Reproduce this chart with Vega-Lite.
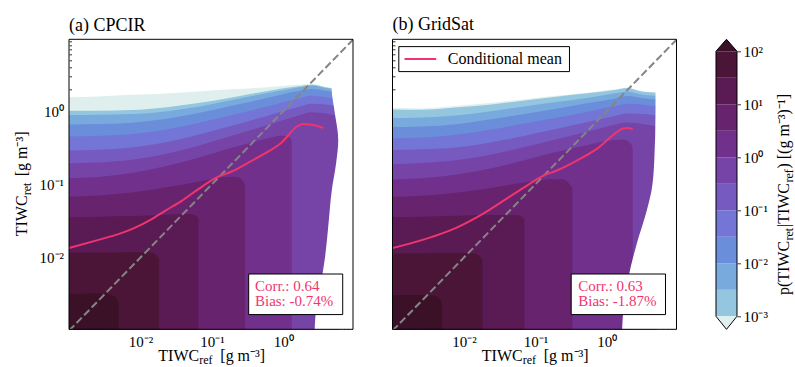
{
"$schema": "https://vega.github.io/schema/vega-lite/v6.json",
"background": "white",
"padding": {"left": 13, "top": 15.3, "right": 0, "bottom": 0},
"config": {"font": "Liberation Serif", "view": {"stroke": null}, "axis": {"grid": false, "domain": false, "labelColor": "black", "tickColor": "black", "labelFontSize": 15, "labelFont": "Liberation Serif", "zindex": 1, "labelFlush": false, "labelOverlap": false}},
"datasets": {
"field": [
{"p":"a","L":0,"x":0.000891,"y":1.537},{"p":"a","L":0,"x":0.002588,"y":1.587},{"p":"a","L":0,"x":0.007568,"y":1.672},{"p":"a","L":0,"x":0.02213,"y":1.743},{"p":"a","L":0,"x":0.06471,"y":1.857},{"p":"a","L":0,"x":0.1892,"y":1.978},{"p":"a","L":0,"x":0.5546,"y":2.105},{"p":"a","L":0,"x":1.622,"y":2.291},{"p":"a","L":0,"x":2.489,"y":2.339},{"p":"a","L":0,"x":4.256,"y":2.105},{"p":"a","L":0,"x":6.0,"y":2.0},
{"p":"a","L":1,"x":0.000891,"y":1.011},{"p":"a","L":1,"x":0.002588,"y":1.011},{"p":"a","L":1,"x":0.007568,"y":1.032},{"p":"a","L":1,"x":0.02213,"y":1.122},{"p":"a","L":1,"x":0.06471,"y":1.286},{"p":"a","L":1,"x":0.1892,"y":1.537},{"p":"a","L":1,"x":0.5546,"y":1.857},{"p":"a","L":1,"x":1.622,"y":2.174},{"p":"a","L":1,"x":2.489,"y":2.291},{"p":"a","L":1,"x":4.256,"y":2.084},{"p":"a","L":1,"x":6.0,"y":1.98},
{"p":"a","L":2,"x":0.000891,"y":0.8817},{"p":"a","L":2,"x":0.002588,"y":0.891},{"p":"a","L":2,"x":0.007568,"y":0.9099},{"p":"a","L":2,"x":0.02213,"y":0.9896},{"p":"a","L":2,"x":0.06471,"y":1.147},{"p":"a","L":2,"x":0.1892,"y":1.414},{"p":"a","L":2,"x":0.5546,"y":1.743},{"p":"a","L":2,"x":1.622,"y":2.105},{"p":"a","L":2,"x":2.489,"y":2.242},{"p":"a","L":2,"x":4.256,"y":2.041},{"p":"a","L":2,"x":6.0,"y":1.95},
{"p":"a","L":3,"x":0.000891,"y":0.657},{"p":"a","L":3,"x":0.002588,"y":0.664},{"p":"a","L":3,"x":0.007568,"y":0.693},{"p":"a","L":3,"x":0.02213,"y":0.777},{"p":"a","L":3,"x":0.06471,"y":0.939},{"p":"a","L":3,"x":0.1892,"y":1.183},{"p":"a","L":3,"x":0.5546,"y":1.489},{"p":"a","L":3,"x":1.622,"y":1.876},{"p":"a","L":3,"x":2.489,"y":1.998},{"p":"a","L":3,"x":4.256,"y":1.876},{"p":"a","L":3,"x":6.0,"y":1.793},
{"p":"a","L":4,"x":0.000891,"y":0.45},{"p":"a","L":4,"x":0.002588,"y":0.46},{"p":"a","L":4,"x":0.007568,"y":0.485},{"p":"a","L":4,"x":0.02213,"y":0.555},{"p":"a","L":4,"x":0.06471,"y":0.685},{"p":"a","L":4,"x":0.1892,"y":0.881},{"p":"a","L":4,"x":0.5546,"y":1.133},{"p":"a","L":4,"x":1.622,"y":1.488},{"p":"a","L":4,"x":2.489,"y":1.618},{"p":"a","L":4,"x":4.256,"y":1.537},{"p":"a","L":4,"x":6.0,"y":1.469},
{"p":"a","L":5,"x":0.000891,"y":0.29},{"p":"a","L":5,"x":0.002588,"y":0.296},{"p":"a","L":5,"x":0.007568,"y":0.319},{"p":"a","L":5,"x":0.02213,"y":0.373},{"p":"a","L":5,"x":0.06471,"y":0.475},{"p":"a","L":5,"x":0.1892,"y":0.631},{"p":"a","L":5,"x":0.5546,"y":0.846},{"p":"a","L":5,"x":1.622,"y":1.136},{"p":"a","L":5,"x":2.489,"y":1.261},{"p":"a","L":5,"x":4.256,"y":1.221},{"p":"a","L":5,"x":6.0,"y":1.163},
{"p":"a","L":6,"x":0.000891,"y":0.193},{"p":"a","L":6,"x":0.002588,"y":0.199},{"p":"a","L":6,"x":0.007568,"y":0.216},{"p":"a","L":6,"x":0.02213,"y":0.259},{"p":"a","L":6,"x":0.06471,"y":0.336},{"p":"a","L":6,"x":0.1892,"y":0.46},{"p":"a","L":6,"x":0.5546,"y":0.631},{"p":"a","L":6,"x":1.622,"y":0.864},{"p":"a","L":6,"x":2.489,"y":0.96},{"p":"a","L":6,"x":4.256,"y":0.911},{"p":"a","L":6,"x":6.0,"y":0.85},
{"p":"a","L":7,"x":0.000891,"y":0.1204},{"p":"a","L":7,"x":0.002588,"y":0.1255},{"p":"a","L":7,"x":0.007568,"y":0.1424},{"p":"a","L":7,"x":0.02213,"y":0.1757},{"p":"a","L":7,"x":0.06471,"y":0.2308},{"p":"a","L":7,"x":0.1892,"y":0.316},{"p":"a","L":7,"x":0.5546,"y":0.4151},{"p":"a","L":7,"x":0.9484,"y":0.4611},{"p":"a","L":7,"x":1.175,"y":0.4515},{"p":"a","L":7,"x":1.309,"y":0.394},
{"p":"a","L":8,"x":0.000891,"y":0.06748},{"p":"a","L":8,"x":0.002588,"y":0.07036},{"p":"a","L":8,"x":0.007568,"y":0.07733},{"p":"a","L":8,"x":0.02213,"y":0.09054},{"p":"a","L":8,"x":0.06471,"y":0.1082},{"p":"a","L":8,"x":0.1107,"y":0.1202},{"p":"a","L":8,"x":0.1892,"y":0.1266},{"p":"a","L":8,"x":0.235,"y":0.124},{"p":"a","L":8,"x":0.2761,"y":0.1093},{"p":"a","L":8,"x":0.2911,"y":0.095},
{"p":"a","L":9,"x":0.000891,"y":0.03539},{"p":"a","L":9,"x":0.002588,"y":0.03615},{"p":"a","L":9,"x":0.007568,"y":0.03691},{"p":"a","L":9,"x":0.02213,"y":0.03848},{"p":"a","L":9,"x":0.04688,"y":0.0393},{"p":"a","L":9,"x":0.05821,"y":0.03769},{"p":"a","L":9,"x":0.06471,"y":0.03458},
{"p":"a","L":10,"x":0.000891,"y":0.0117},{"p":"a","L":10,"x":0.002588,"y":0.0117},{"p":"a","L":10,"x":0.007568,"y":0.01182},{"p":"a","L":10,"x":0.01294,"y":0.01182},{"p":"a","L":10,"x":0.01603,"y":0.0111},{"p":"a","L":10,"x":0.01824,"y":0.00949},
{"p":"a","L":11,"x":0.000891,"y":0.003154},{"p":"a","L":11,"x":0.002588,"y":0.003221},{"p":"a","L":11,"x":0.003972,"y":0.003088},{"p":"a","L":11,"x":0.004667,"y":0.002694},{"p":"a","L":11,"x":0.00492,"y":0.0024},
{"p":"b","L":0,"x":0.000891,"y":1.099},{"p":"b","L":0,"x":0.002588,"y":1.087},{"p":"b","L":0,"x":0.007631,"y":1.17},{"p":"b","L":0,"x":0.02249,"y":1.286},{"p":"b","L":0,"x":0.06637,"y":1.443},{"p":"b","L":0,"x":0.1954,"y":1.62},{"p":"b","L":0,"x":0.5768,"y":1.799},{"p":"b","L":0,"x":1.368,"y":1.999},{"p":"b","L":0,"x":1.892,"y":2.105},{"p":"b","L":0,"x":3.251,"y":1.857},{"p":"b","L":0,"x":4.9,"y":1.8},
{"p":"b","L":1,"x":0.000891,"y":1.05},{"p":"b","L":1,"x":0.002588,"y":1.04},{"p":"b","L":1,"x":0.007631,"y":1.12},{"p":"b","L":1,"x":0.02249,"y":1.22},{"p":"b","L":1,"x":0.06637,"y":1.38},{"p":"b","L":1,"x":0.1954,"y":1.57},{"p":"b","L":1,"x":0.5768,"y":1.76},{"p":"b","L":1,"x":1.368,"y":1.96},{"p":"b","L":1,"x":1.892,"y":2.07},{"p":"b","L":1,"x":3.251,"y":1.83},{"p":"b","L":1,"x":4.9,"y":1.78},
{"p":"b","L":2,"x":0.000891,"y":0.801},{"p":"b","L":2,"x":0.002588,"y":0.818},{"p":"b","L":2,"x":0.007631,"y":0.871},{"p":"b","L":2,"x":0.02249,"y":0.989},{"p":"b","L":2,"x":0.06637,"y":1.144},{"p":"b","L":2,"x":0.1954,"y":1.326},{"p":"b","L":2,"x":0.5768,"y":1.535},{"p":"b","L":2,"x":1.368,"y":1.759},{"p":"b","L":2,"x":1.892,"y":1.854},{"p":"b","L":2,"x":3.251,"y":1.669},{"p":"b","L":2,"x":4.9,"y":1.614},
{"p":"b","L":3,"x":0.000891,"y":0.603},{"p":"b","L":3,"x":0.002588,"y":0.616},{"p":"b","L":3,"x":0.007631,"y":0.663},{"p":"b","L":3,"x":0.02249,"y":0.768},{"p":"b","L":3,"x":0.06637,"y":0.908},{"p":"b","L":3,"x":0.1954,"y":1.074},{"p":"b","L":3,"x":0.5768,"y":1.298},{"p":"b","L":3,"x":1.368,"y":1.502},{"p":"b","L":3,"x":1.892,"y":1.6},{"p":"b","L":3,"x":3.251,"y":1.502},{"p":"b","L":3,"x":4.9,"y":1.436},
{"p":"b","L":4,"x":0.000891,"y":0.4265},{"p":"b","L":4,"x":0.002588,"y":0.4356},{"p":"b","L":4,"x":0.007631,"y":0.4738},{"p":"b","L":4,"x":0.02249,"y":0.5543},{"p":"b","L":4,"x":0.06637,"y":0.6698},{"p":"b","L":4,"x":0.1954,"y":0.8088},{"p":"b","L":4,"x":0.5768,"y":0.9975},{"p":"b","L":4,"x":1.368,"y":1.18},{"p":"b","L":4,"x":1.892,"y":1.257},{"p":"b","L":4,"x":3.251,"y":1.217},{"p":"b","L":4,"x":4.9,"y":1.159},
{"p":"b","L":5,"x":0.000891,"y":0.2925},{"p":"b","L":5,"x":0.002588,"y":0.3015},{"p":"b","L":5,"x":0.007631,"y":0.3182},{"p":"b","L":5,"x":0.02249,"y":0.3686},{"p":"b","L":5,"x":0.06637,"y":0.4546},{"p":"b","L":5,"x":0.1954,"y":0.5669},{"p":"b","L":5,"x":0.5768,"y":0.7213},{"p":"b","L":5,"x":1.368,"y":0.8711},{"p":"b","L":5,"x":1.892,"y":0.9278},{"p":"b","L":5,"x":3.251,"y":0.9089},{"p":"b","L":5,"x":4.9,"y":0.872},
{"p":"b","L":6,"x":0.000891,"y":0.1877},{"p":"b","L":6,"x":0.002588,"y":0.1958},{"p":"b","L":6,"x":0.007631,"y":0.2129},{"p":"b","L":6,"x":0.02249,"y":0.2518},{"p":"b","L":6,"x":0.06637,"y":0.3172},{"p":"b","L":6,"x":0.1954,"y":0.4122},{"p":"b","L":6,"x":0.5768,"y":0.5357},{"p":"b","L":6,"x":1.368,"y":0.661},{"p":"b","L":6,"x":1.892,"y":0.6965},{"p":"b","L":6,"x":3.251,"y":0.661},{"p":"b","L":6,"x":4.9,"y":0.62},
{"p":"b","L":7,"x":0.000891,"y":0.1164},{"p":"b","L":7,"x":0.002588,"y":0.1214},{"p":"b","L":7,"x":0.007631,"y":0.1348},{"p":"b","L":7,"x":0.02249,"y":0.1628},{"p":"b","L":7,"x":0.06637,"y":0.2095},{"p":"b","L":7,"x":0.1954,"y":0.2752},{"p":"b","L":7,"x":0.5768,"y":0.3502},{"p":"b","L":7,"x":0.9885,"y":0.389},{"p":"b","L":7,"x":1.698,"y":0.4099},{"p":"b","L":7,"x":2.2,"y":0.3502},{"p":"b","L":7,"x":2.3,"y":0.3099},
{"p":"b","L":8,"x":0.000891,"y":0.06748},{"p":"b","L":8,"x":0.002588,"y":0.06963},{"p":"b","L":8,"x":0.007631,"y":0.07652},{"p":"b","L":8,"x":0.02249,"y":0.08863},{"p":"b","L":8,"x":0.06637,"y":0.1048},{"p":"b","L":8,"x":0.1574,"y":0.1176},{"p":"b","L":8,"x":0.2427,"y":0.1176},{"p":"b","L":8,"x":0.3013,"y":0.1005},{"p":"b","L":8,"x":0.3283,"y":0.09},
{"p":"b","L":9,"x":0.000891,"y":0.03536},{"p":"b","L":9,"x":0.002588,"y":0.03611},{"p":"b","L":9,"x":0.007631,"y":0.03726},{"p":"b","L":9,"x":0.02249,"y":0.03805},{"p":"b","L":9,"x":0.05345,"y":0.03805},{"p":"b","L":9,"x":0.06637,"y":0.03536},{"p":"b","L":9,"x":0.07002,"y":0.0328},
{"p":"b","L":10,"x":0.000891,"y":0.0113},{"p":"b","L":10,"x":0.002588,"y":0.0114},{"p":"b","L":10,"x":0.007631,"y":0.0115},{"p":"b","L":10,"x":0.01309,"y":0.0115},{"p":"b","L":10,"x":0.01626,"y":0.0106},{"p":"b","L":10,"x":0.01811,"y":0.0094},
{"p":"b","L":11,"x":0.000891,"y":0.00305},{"p":"b","L":11,"x":0.002588,"y":0.00309},{"p":"b","L":11,"x":0.00399,"y":0.002993},{"p":"b","L":11,"x":0.00469,"y":0.002611},{"p":"b","L":11,"x":0.004955,"y":0.0023}
],
"edge": [
{"p":"a","x":4.6,"y":12},{"p":"a","x":4.74,"y":2.0},{"p":"a","x":5.2,"y":1.0},{"p":"a","x":5.87,"y":0.4},{"p":"a","x":5.5,"y":0.2},{"p":"a","x":4.74,"y":0.08},{"p":"a","x":4.3,"y":0.03},{"p":"a","x":3.83,"y":0.01},{"p":"a","x":3.3,"y":0.004},{"p":"a","x":2.8,"y":0.0015},{"p":"a","x":2.7,"y":0.0005},
{"p":"b","x":4.8,"y":12},{"p":"b","x":4.8,"y":1.0},{"p":"b","x":4.6,"y":0.2},{"p":"b","x":4.2,"y":0.08},{"p":"b","x":3.6,"y":0.043},{"p":"b","x":2.6,"y":0.015},{"p":"b","x":2.0,"y":0.0053},{"p":"b","x":1.7,"y":0.0019},{"p":"b","x":1.6,"y":0.0005}
],
"mean": [
{"p":"a","x":0.001,"y":0.01343},{"p":"a","x":0.002588,"y":0.01742},{"p":"a","x":0.00492,"y":0.02084},{"p":"a","x":0.007568,"y":0.02438},{"p":"a","x":0.01442,"y":0.03342},{"p":"a","x":0.02213,"y":0.04345},{"p":"a","x":0.03784,"y":0.05943},{"p":"a","x":0.06471,"y":0.0859},{"p":"a","x":0.1169,"y":0.1239},{"p":"a","x":0.1892,"y":0.1496},{"p":"a","x":0.3606,"y":0.2094},{"p":"a","x":0.5546,"y":0.2636},{"p":"a","x":0.9484,"y":0.3733},{"p":"a","x":1.622,"y":0.631},{"p":"a","x":1.905,"y":0.6637},{"p":"a","x":2.489,"y":0.6501},{"p":"a","x":3.436,"y":0.5984},{"p":"a","x":3.622,"y":0.5861},
{"p":"b","x":0.001,"y":0.01343},{"p":"b","x":0.003581,"y":0.01914},{"p":"b","x":0.007638,"y":0.02518},{"p":"b","x":0.01811,"y":0.03908},{"p":"b","x":0.03864,"y":0.06266},{"p":"b","x":0.08222,"y":0.1005},{"p":"b","x":0.1268,"y":0.1306},{"p":"b","x":0.1954,"y":0.1531},{"p":"b","x":0.3741,"y":0.2094},{"p":"b","x":0.7145,"y":0.3027},{"p":"b","x":1.368,"y":0.5105},{"p":"b","x":1.698,"y":0.5794},{"p":"b","x":1.995,"y":0.5861},{"p":"b","x":2.301,"y":0.561}
],
"bands": [
{"L":1,"lo":0.001,"hi":0.003162},{"L":2,"lo":0.003162,"hi":0.01},{"L":3,"lo":0.01,"hi":0.03162},{"L":4,"lo":0.03162,"hi":0.1},{"L":5,"lo":0.1,"hi":0.3162},{"L":6,"lo":0.3162,"hi":1},{"L":7,"lo":1,"hi":3.162},{"L":8,"lo":3.162,"hi":10},{"L":9,"lo":10,"hi":31.62},{"L":10,"lo":31.62,"hi":100}
]
},
"spacing": 39.5,
"bounds": "flush",
"hconcat": [
{
"width": 284, "height": 290,
"title": {"text": "(a) CPCIR", "anchor": "start", "frame": "group", "fontSize": 18, "fontWeight": "normal", "baseline": "alphabetic", "offset": -15, "color": "black"},
"layer": [
{"data": {"name": "field"}, "transform": [{"filter": "datum.p == 'a'"}],
 "mark": {"type": "area", "clip": true, "interpolate": "monotone", "opacity": 1},
 "encoding": {
  "x": {"field": "x", "type": "quantitative", "title": null, "scale": {"type": "log", "domain": [0.001, 9.4406], "nice": false},
        "axis": {"values": [0.002,0.003,0.004,0.005,0.006,0.007,0.008,0.009,0.01,0.02,0.03,0.04,0.05,0.06,0.07,0.08,0.09,0.1,0.2,0.3,0.4,0.5,0.6,0.7,0.8,0.9,1,2,3,4,5,6,7,8,9],
                 "labelExpr": "datum.value == 0.01 ? '10⁻²' : datum.value == 0.1 ? '10⁻¹' : datum.value == 1 ? '10⁰' : ''",
                 "tickSize": {"condition": {"test": "datum.value == 0.01 || datum.value == 0.1 || datum.value == 1", "value": -4.5}, "value": -2.5},
                 "tickWidth": 0.8, "labelPadding": 10}},
  "y": {"field": "y", "type": "quantitative", "title": null, "stack": null, "scale": {"type": "log", "domain": [0.0010471, 9.5499], "nice": false},
        "axis": {"values": [0.002,0.003,0.004,0.005,0.006,0.007,0.008,0.009,0.01,0.02,0.03,0.04,0.05,0.06,0.07,0.08,0.09,0.1,0.2,0.3,0.4,0.5,0.6,0.7,0.8,0.9,1,2,3,4,5,6,7,8,9],
                 "labelExpr": "datum.value == 0.01 ? '10⁻²' : datum.value == 0.1 ? '10⁻¹' : datum.value == 1 ? '10⁰' : ''",
                 "tickSize": {"condition": {"test": "datum.value == 0.01 || datum.value == 0.1 || datum.value == 1", "value": -4.5}, "value": -2.5},
                 "tickWidth": 0.8, "labelPadding": 10}},
  "y2": {"datum": 0.0005},
  "fill": {"field": "L", "type": "ordinal", "scale": {"domain": [0,1,2,3,4,5,6,7,8,9,10,11], "range": ["#deefee","#95c6df","#78aade","#6b8edb","#7376d6","#775ac0","#7544a6","#70308c","#68236f","#5a1a53","#4a1537","#3b1128"]}, "legend": null}
 }},
{"data": {"name": "edge"}, "transform": [{"filter": "datum.p == 'a'"}],
 "mark": {"type": "area", "orient": "horizontal", "clip": true, "color": "white", "opacity": 1, "interpolate": "monotone"},
 "encoding": {"y": {"field": "y", "type": "quantitative", "title": null}, "x": {"field": "x", "type": "quantitative", "title": null, "stack": null}, "x2": {"datum": 20}}},
{"data": {"values": [{}]}, "mark": {"type": "rule", "clip": true, "color": "#858585", "strokeWidth": 2, "strokeDash": [7.5, 3.3]},
 "encoding": {"x": {"datum": 0.001}, "y": {"datum": 0.001}, "x2": {"datum": 10}, "y2": {"datum": 10}}},
{"data": {"name": "mean"}, "transform": [{"filter": "datum.p == 'a'"}],
 "mark": {"type": "line", "clip": true, "color": "#f0346e", "strokeWidth": 2, "interpolate": "monotone"},
 "encoding": {"x": {"field": "x", "type": "quantitative", "title": null}, "y": {"field": "y", "type": "quantitative", "title": null}}},
{"data": {"values": [{}]}, "mark": {"type": "rect", "fillOpacity": 0, "stroke": "black", "strokeWidth": 1},
 "encoding": {"x": {"datum": 0.001}, "x2": {"datum": 9.4406}, "y": {"datum": 0.0010471}, "y2": {"datum": 9.5499}}},
{"data": {"values": [{}]}, "mark": {"type": "rect", "fill": "white", "stroke": "black", "strokeWidth": 1},
 "encoding": {"x": {"datum": 0.3273}, "x2": {"datum": 6.776}, "y": {"datum": 0.001663}, "y2": {"datum": 0.005957}}},
{"data": {"values": [{}]}, "mark": {"type": "text", "align": "left", "baseline": "alphabetic", "fontSize": 15, "lineHeight": 15, "color": "#f0346e"},
 "encoding": {"x": {"datum": 0.4009}, "y": {"datum": 0.003532}, "text": {"value": ["Corr.: 0.64", "Bias: -0.74%"]}}},
{"data": {"values": [{}]}, "mark": {"type": "text", "align": "left", "baseline": "alphabetic", "fontSize": 16, "color": "black"},
 "encoding": {"x": {"datum": 0.01778}, "y": {"datum": 0.000383}, "text": {"value": "TIWC"}}},
{"data": {"values": [{}]}, "mark": {"type": "text", "align": "left", "baseline": "alphabetic", "fontSize": 12, "dx": 41, "dy": 3, "color": "black"},
 "encoding": {"x": {"datum": 0.01778}, "y": {"datum": 0.000383}, "text": {"value": "ref"}}},
{"data": {"values": [{}]}, "mark": {"type": "text", "align": "left", "baseline": "alphabetic", "fontSize": 16, "dx": 62, "color": "black"},
 "encoding": {"x": {"datum": 0.01778}, "y": {"datum": 0.000383}, "text": {"value": "[g m⁻³]"}}},
{"data": {"values": [{}]}, "mark": {"type": "text", "align": "left", "baseline": "alphabetic", "fontSize": 16, "angle": 270, "color": "black"},
 "encoding": {"x": {"datum": 0.000256}, "y": {"datum": 0.0195}, "text": {"value": "TIWC"}}},
{"data": {"values": [{}]}, "mark": {"type": "text", "align": "left", "baseline": "alphabetic", "fontSize": 12, "angle": 270, "dx": 41, "dy": 4, "color": "black"},
 "encoding": {"x": {"datum": 0.000256}, "y": {"datum": 0.0195}, "text": {"value": "ret"}}},
{"data": {"values": [{}]}, "mark": {"type": "text", "align": "left", "baseline": "alphabetic", "fontSize": 16, "angle": 270, "dx": 60, "color": "black"},
 "encoding": {"x": {"datum": 0.000256}, "y": {"datum": 0.0195}, "text": {"value": "[g m⁻³]"}}}
]
},
{
"width": 284, "height": 290,
"title": {"text": "(b) GridSat", "anchor": "start", "frame": "group", "fontSize": 18, "fontWeight": "normal", "baseline": "alphabetic", "offset": -9, "color": "black"},
"layer": [
{"data": {"name": "field"}, "transform": [{"filter": "datum.p == 'b'"}],
 "mark": {"type": "area", "clip": true, "interpolate": "monotone", "opacity": 1},
 "encoding": {
  "x": {"field": "x", "type": "quantitative", "title": null, "scale": {"type": "log", "domain": [0.001, 9.4406], "nice": false},
        "axis": {"values": [0.002,0.003,0.004,0.005,0.006,0.007,0.008,0.009,0.01,0.02,0.03,0.04,0.05,0.06,0.07,0.08,0.09,0.1,0.2,0.3,0.4,0.5,0.6,0.7,0.8,0.9,1,2,3,4,5,6,7,8,9],
                 "labelExpr": "datum.value == 0.01 ? '10⁻²' : datum.value == 0.1 ? '10⁻¹' : datum.value == 1 ? '10⁰' : ''",
                 "tickSize": {"condition": {"test": "datum.value == 0.01 || datum.value == 0.1 || datum.value == 1", "value": -4.5}, "value": -2.5},
                 "tickWidth": 0.8, "labelPadding": 10}},
  "y": {"field": "y", "type": "quantitative", "title": null, "stack": null, "scale": {"type": "log", "domain": [0.0010471, 9.5499], "nice": false},
        "axis": {"values": [0.002,0.003,0.004,0.005,0.006,0.007,0.008,0.009,0.01,0.02,0.03,0.04,0.05,0.06,0.07,0.08,0.09,0.1,0.2,0.3,0.4,0.5,0.6,0.7,0.8,0.9,1,2,3,4,5,6,7,8,9],
                 "labels": false,
                 "tickSize": {"condition": {"test": "datum.value == 0.01 || datum.value == 0.1 || datum.value == 1", "value": -4.5}, "value": -2.5},
                 "tickWidth": 0.8}},
  "y2": {"datum": 0.0005},
  "fill": {"field": "L", "type": "ordinal", "scale": {"domain": [0,1,2,3,4,5,6,7,8,9,10,11], "range": ["#deefee","#95c6df","#78aade","#6b8edb","#7376d6","#775ac0","#7544a6","#70308c","#68236f","#5a1a53","#4a1537","#3b1128"]}, "legend": null}
 }},
{"data": {"name": "edge"}, "transform": [{"filter": "datum.p == 'b'"}],
 "mark": {"type": "area", "orient": "horizontal", "clip": true, "color": "white", "opacity": 1, "interpolate": "monotone"},
 "encoding": {"y": {"field": "y", "type": "quantitative", "title": null}, "x": {"field": "x", "type": "quantitative", "title": null, "stack": null}, "x2": {"datum": 20}}},
{"data": {"values": [{}]}, "mark": {"type": "rule", "clip": true, "color": "#858585", "strokeWidth": 2, "strokeDash": [7.5, 3.3]},
 "encoding": {"x": {"datum": 0.001}, "y": {"datum": 0.001}, "x2": {"datum": 10}, "y2": {"datum": 10}}},
{"data": {"name": "mean"}, "transform": [{"filter": "datum.p == 'b'"}],
 "mark": {"type": "line", "clip": true, "color": "#f0346e", "strokeWidth": 2, "interpolate": "monotone"},
 "encoding": {"x": {"field": "x", "type": "quantitative", "title": null}, "y": {"field": "y", "type": "quantitative", "title": null}}},
{"data": {"values": [{}]}, "mark": {"type": "rect", "fillOpacity": 0, "stroke": "black", "strokeWidth": 1},
 "encoding": {"x": {"datum": 0.001}, "x2": {"datum": 9.4406}, "y": {"datum": 0.0010471}, "y2": {"datum": 9.5499}}},
{"data": {"values": [{}]}, "mark": {"type": "rect", "fill": "white", "stroke": "black", "strokeWidth": 1},
 "encoding": {"x": {"datum": 0.317}, "x2": {"datum": 6.622}, "y": {"datum": 0.001663}, "y2": {"datum": 0.005957}}},
{"data": {"values": [{}]}, "mark": {"type": "text", "align": "left", "baseline": "alphabetic", "fontSize": 15, "lineHeight": 15, "color": "#f0346e"},
 "encoding": {"x": {"datum": 0.398}, "y": {"datum": 0.003532}, "text": {"value": ["Corr.: 0.63", "Bias: -1.87%"]}}},
{"data": {"values": [{}]}, "mark": {"type": "rect", "fill": "white", "stroke": "black", "strokeWidth": 1},
 "encoding": {"x": {"datum": 0.001225}, "x2": {"datum": 0.2999}, "y": {"datum": 3.459}, "y2": {"datum": 7.586}}},
{"data": {"values": [{}]}, "mark": {"type": "rule", "color": "#f0346e", "strokeWidth": 2},
 "encoding": {"x": {"datum": 0.001472}, "x2": {"datum": 0.004093}, "y": {"datum": 5.14}}},
{"data": {"values": [{}]}, "mark": {"type": "text", "align": "left", "baseline": "alphabetic", "fontSize": 16, "color": "black"},
 "encoding": {"x": {"datum": 0.005943}, "y": {"datum": 4.395}, "text": {"value": "Conditional mean"}}},
{"data": {"values": [{}]}, "mark": {"type": "text", "align": "left", "baseline": "alphabetic", "fontSize": 16, "color": "black"},
 "encoding": {"x": {"datum": 0.01778}, "y": {"datum": 0.000383}, "text": {"value": "TIWC"}}},
{"data": {"values": [{}]}, "mark": {"type": "text", "align": "left", "baseline": "alphabetic", "fontSize": 12, "dx": 41, "dy": 3, "color": "black"},
 "encoding": {"x": {"datum": 0.01778}, "y": {"datum": 0.000383}, "text": {"value": "ref"}}},
{"data": {"values": [{}]}, "mark": {"type": "text", "align": "left", "baseline": "alphabetic", "fontSize": 16, "dx": 62, "color": "black"},
 "encoding": {"x": {"datum": 0.01778}, "y": {"datum": 0.000383}, "text": {"value": "[g m⁻³]"}}}
]
},
{
"width": 21, "height": 290,
"layer": [
{"data": {"name": "bands"}, "mark": {"type": "rect"},
 "encoding": {
  "x": {"datum": 0, "type": "quantitative", "scale": {"domain": [0, 1], "nice": false, "zero": false}, "axis": null},
  "x2": {"datum": 1},
  "y": {"field": "lo", "type": "quantitative", "title": null, "scale": {"type": "log", "domain": [0.000569, 168.3], "nice": false},
        "axis": {"orient": "right", "values": [0.001, 0.01, 0.1, 1, 10, 100],
                 "labelExpr": "datum.value < 0.005 ? '10⁻³' : datum.value < 0.05 ? '10⁻²' : datum.value < 0.5 ? '10⁻¹' : datum.value < 5 ? '10⁰' : datum.value < 50 ? '10¹' : '10²'",
                 "tickSize": 3.5, "tickWidth": 0.8, "labelPadding": 2.5}},
  "y2": {"field": "hi"},
  "fill": {"field": "L", "type": "ordinal", "scale": {"domain": [0,1,2,3,4,5,6,7,8,9,10,11], "range": ["#deefee","#95c6df","#78aade","#6b8edb","#7376d6","#775ac0","#7544a6","#70308c","#68236f","#5a1a53","#4a1537","#3b1128"]}, "legend": null}
 }},
{"data": {"values": [{}]}, "mark": {"type": "point", "shape": "M-1,0L0,-1.143L1,0", "size": 441, "filled": true, "fill": "#3b1128", "stroke": "black", "strokeWidth": 1, "opacity": 1},
 "encoding": {"x": {"datum": 0.5}, "y": {"datum": 100}}},
{"data": {"values": [{}]}, "mark": {"type": "point", "shape": "M-1,0L0,1.238L1,0", "size": 441, "filled": true, "fill": "#deefee", "stroke": "black", "strokeWidth": 1, "opacity": 1},
 "encoding": {"x": {"datum": 0.5}, "y": {"datum": 0.001}}},
{"data": {"values": [{}]}, "mark": {"type": "rule", "color": "black", "strokeWidth": 1},
 "encoding": {"x": {"datum": 0}, "y": {"datum": 0.001}, "y2": {"datum": 100}}},
{"data": {"values": [{}]}, "mark": {"type": "rule", "color": "black", "strokeWidth": 1},
 "encoding": {"x": {"datum": 1}, "y": {"datum": 0.001}, "y2": {"datum": 100}}},
{"data": {"values": [{}]}, "mark": {"type": "text", "align": "left", "baseline": "alphabetic", "fontSize": 16, "angle": 270, "color": "black"},
 "encoding": {"x": {"datum": 3.5}, "y": {"datum": 0.002518}, "text": {"value": "p(TIWC"}}},
{"data": {"values": [{}]}, "mark": {"type": "text", "align": "left", "baseline": "alphabetic", "fontSize": 12, "angle": 270, "dx": 54.5, "dy": 3.5, "color": "black"},
 "encoding": {"x": {"datum": 3.5}, "y": {"datum": 0.002518}, "text": {"value": "ret"}}},
{"data": {"values": [{}]}, "mark": {"type": "text", "align": "left", "baseline": "alphabetic", "fontSize": 16, "angle": 270, "dx": 68, "color": "black"},
 "encoding": {"x": {"datum": 3.5}, "y": {"datum": 0.002518}, "text": {"value": "|TIWC"}}},
{"data": {"values": [{}]}, "mark": {"type": "text", "align": "left", "baseline": "alphabetic", "fontSize": 12, "angle": 270, "dx": 112.5, "dy": 3.5, "color": "black"},
 "encoding": {"x": {"datum": 3.5}, "y": {"datum": 0.002518}, "text": {"value": "ref"}}},
{"data": {"values": [{}]}, "mark": {"type": "text", "align": "left", "baseline": "alphabetic", "fontSize": 16, "angle": 270, "dx": 126.5, "color": "black"},
 "encoding": {"x": {"datum": 3.5}, "y": {"datum": 0.002518}, "text": {"value": ")  [(g m⁻³)⁻¹]"}}}
]
}
]
}
